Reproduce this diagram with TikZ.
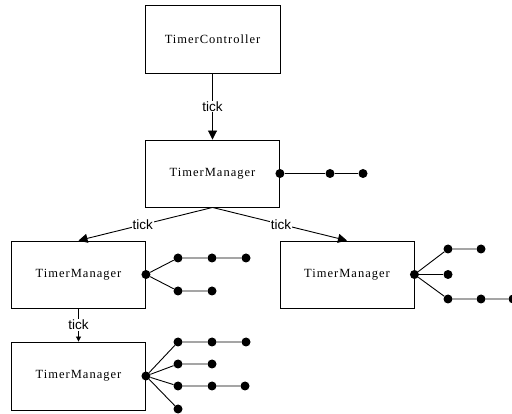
\documentclass[tikz,border=0pt]{standalone}
\usepackage{fontspec}
\setmainfont{Liberation Serif}
\newfontfamily\tickfont{Liberation Sans}
\newfontfamily\boxfont[LetterSpace=8]{Liberation Serif}
\usetikzlibrary{arrows.meta}
\begin{document}
\begin{tikzpicture}[x=1pt,y=-1pt,
 box/.style={draw, line width=0.9pt, minimum width=134pt, minimum height=67pt, inner sep=0pt, font=\boxfont\fontsize{12.5}{14}\selectfont},
 dot/.style={circle, fill, inner sep=0pt, minimum size=9pt},
 link/.style={line width=0.9pt},
 lbl/.style={font=\tickfont\fontsize{13.5}{16}\selectfont, fill=white, inner sep=1pt},
 arr/.style={link, -{Triangle[length=9pt,width=9pt]}},
 sarr/.style={link, -{Triangle[length=5pt,width=5pt]}}
]
\useasboundingbox (0,0) rectangle (512,414);
\node[box, minimum width=135pt, minimum height=68pt] (tc) at (212.5,39) {TimerController};
\node[box] (tm) at (212.5,173.5) {TimerManager};
\node[box] (tl) at (78.5,274.5) {TimerManager};
\node[box] (tr) at (347,274.5) {TimerManager};
\node[box, minimum height=68pt] (tb) at (78.5,376) {TimerManager};
% arrows
\draw[arr] (tc) -- node[lbl]{tick} (tm);
\draw[arr] (tm.south) -- node[lbl, pos=0.52]{tick} (tl.north);
\draw[arr] (tm.south) -- node[lbl, pos=0.51]{tick} (tr.north);
\draw[sarr] (tl) -- node[lbl]{tick} (tb);
% top manager timers
\node[dot] (a0) at (tm.east) {};
\node[dot] (a1) at (330,173.5) {};
\node[dot] (a2) at (363,173.5) {};
\draw[link] (a0) -- (a1) -- (a2);
% left manager timers
\node[dot] (b0) at (tl.east) {};
\node[dot] (b1) at (178,258) {};
\node[dot] (b2) at (212,258) {};
\node[dot] (b3) at (246,258) {};
\node[dot] (b4) at (178,291) {};
\node[dot] (b5) at (212,291) {};
\draw[link] (b0) -- (b1) -- (b2) -- (b3);
\draw[link] (b0) -- (b4) -- (b5);
% right manager timers
\node[dot] (c0) at (tr.east) {};
\node[dot] (c1) at (448,249) {};
\node[dot] (c2) at (481,249) {};
\node[dot] (c3) at (448,274.5) {};
\node[dot] (c4) at (448,299) {};
\node[dot] (c5) at (481,299) {};
\node[dot] (c6) at (513,299) {};
\draw[link] (c0) -- (c1) -- (c2);
\draw[link] (c0) -- (c3);
\draw[link] (c0) -- (c4) -- (c5) -- (c6);
% bottom manager timers
\node[dot] (d0) at (tb.east) {};
\node[dot] (d1) at (178,342) {};
\node[dot] (d2) at (212,342) {};
\node[dot] (d3) at (246,342) {};
\node[dot] (d4) at (178,364) {};
\node[dot] (d5) at (212,364) {};
\node[dot] (d6) at (178,386) {};
\node[dot] (d7) at (212,386) {};
\node[dot] (d8) at (245,386) {};
\node[dot] (d9) at (178,409) {};
\draw[link] (d0) -- (d1) -- (d2) -- (d3);
\draw[link] (d0) -- (d4) -- (d5);
\draw[link] (d0) -- (d6) -- (d7) -- (d8);
\draw[link] (d0) -- (d9);
\end{tikzpicture}
\end{document}
